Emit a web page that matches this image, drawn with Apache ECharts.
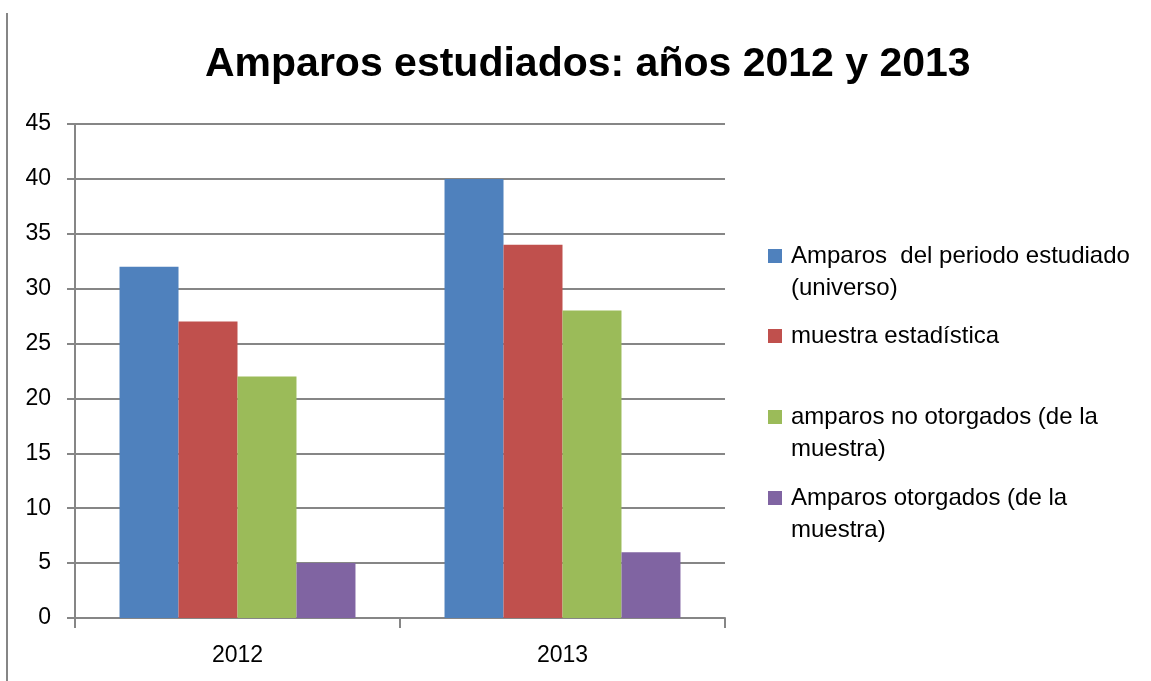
<!DOCTYPE html>
<html>
<head>
<meta charset="utf-8">
<script src="https://cdn.jsdelivr.net/npm/echarts@6/dist/echarts.min.js"></script>
<style>html,body{margin:0;padding:0;background:#fff}#c{width:1151px;height:681px}</style>
</head>
<body>
<div id="c"></div>
<script>
const titleText = 'Amparos estudiados: años 2012 y 2013';
const categories = ['2012', '2013'];
const seriesNames = [
  'Amparos  del periodo estudiado\n(universo)',
  'muestra estadística',
  'amparos no otorgados (de la\nmuestra)',
  'Amparos otorgados (de la\nmuestra)'
];
const universo = [32, 40];
const muestra = [27, 34];
const noOtorgados = [22, 28];
const otorgados = [5, 6];
const colors = ['#4F81BD', '#C0504D', '#9BBB59', '#8064A2'];
const yTicks = {min: 0, max: 45, interval: 5};

const values = [universo, muestra, noOtorgados, otorgados];
const font = '"Liberation Sans", Arial, sans-serif';
const legendTops = [240, 320, 401, 482];
// square at the top of a taller icon box, so the marker sits beside the first text line
const tallIcon = 'path://M0,0L14,0L14,14L0,14Z M0,46L14,46';

const chart = echarts.init(document.getElementById('c'), null, {renderer: 'canvas'});
chart.setOption({
  backgroundColor: '#fff',
  animation: false,
  color: colors,
  title: {
    text: titleText, left: 200, top: 39,
    textStyle: {fontFamily: font, fontWeight: 'bold', fontSize: 41, color: '#000'}
  },
  legend: seriesNames.map((n, i) => {
    const two = n.indexOf('\n') >= 0;
    return {
      data: [{name: n, icon: two ? tallIcon : 'rect'}],
      left: 768, top: legendTops[i], orient: 'vertical', padding: 0,
      itemWidth: 14, itemHeight: two ? 46 : 14, itemGap: 0,
      textStyle: {fontFamily: font, fontSize: 24, color: '#000', lineHeight: 32,
        padding: [0, 0, 0, 4]}
    };
  }),
  grid: {left: 75, right: 426, top: 124, bottom: 63, containLabel: false},
  xAxis: {
    type: 'category', data: categories,
    axisLine: {lineStyle: {color: '#868686', width: 2}},
    axisTick: {show: true, length: 10, lineStyle: {color: '#868686', width: 2}},
    axisLabel: {fontFamily: font, fontSize: 23, color: '#000', margin: 26}
  },
  yAxis: {
    type: 'value', min: yTicks.min, max: yTicks.max, interval: yTicks.interval,
    axisLine: {show: true, lineStyle: {color: '#868686', width: 2}},
    axisTick: {show: true, length: 8, lineStyle: {color: '#868686', width: 2}},
    axisLabel: {fontFamily: font, fontSize: 23, color: '#000', margin: 24},
    splitLine: {lineStyle: {color: '#868686', width: 2}}
  },
  series: seriesNames.map((n, i) => ({
    name: n, type: 'bar', data: values[i],
    barGap: 0, barCategoryGap: '27.4%',
    itemStyle: {color: colors[i]}
  })),
  graphic: [{
    type: 'line', shape: {x1: 7, y1: 13, x2: 7, y2: 681},
    style: {stroke: '#868686', lineWidth: 2}
  }]
});
</script>
</body>
</html>
